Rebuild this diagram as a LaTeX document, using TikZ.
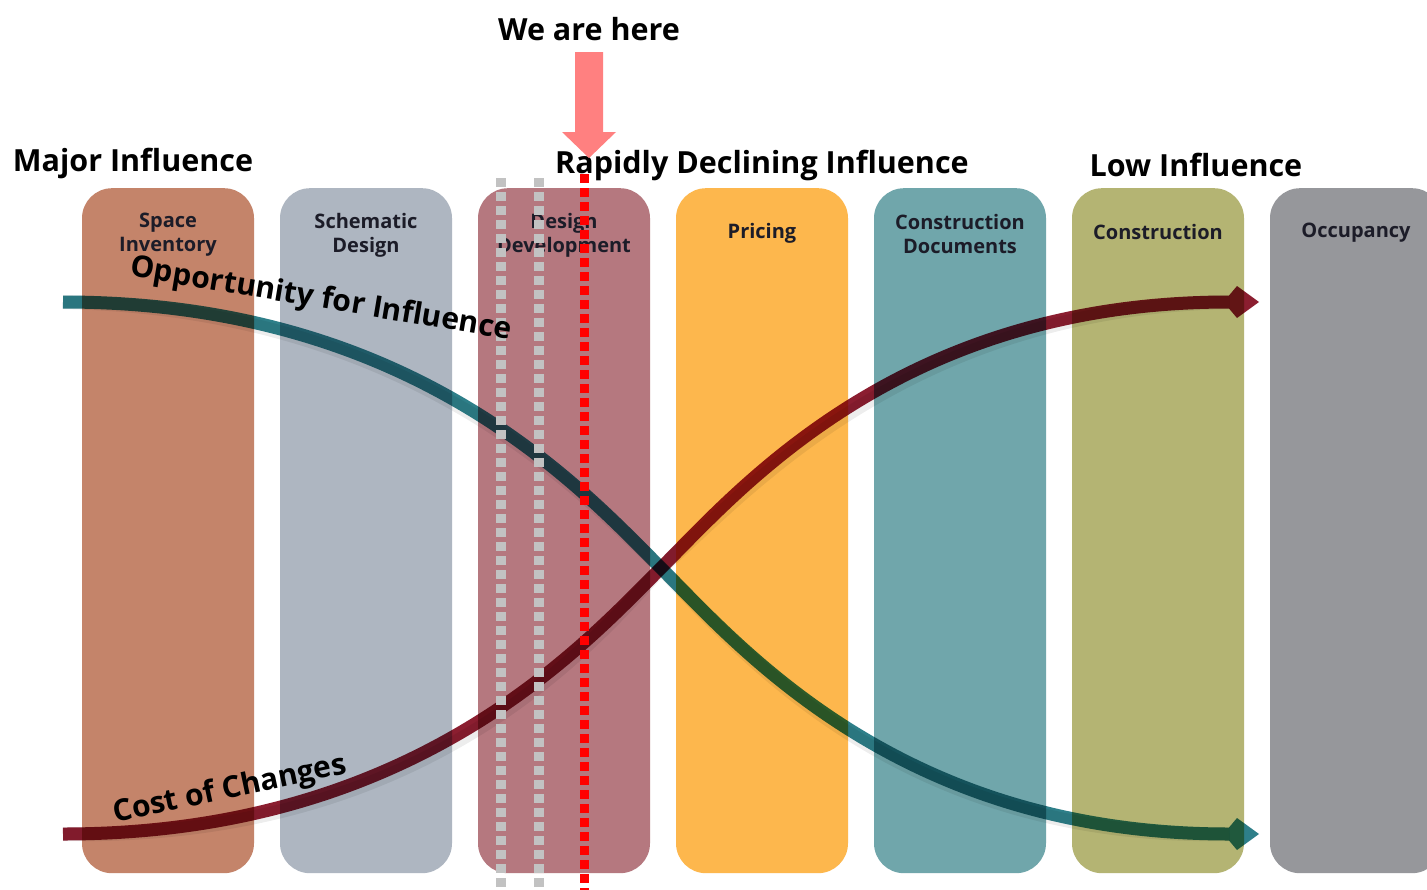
\documentclass[tikz,border=0pt]{standalone}
\usepackage{fontspec}
\setmainfont{Open Sans}
\definecolor{colA}{HTML}{C4846A}
\definecolor{colB}{HTML}{AEB6C1}
\definecolor{colC}{HTML}{B5787F}
\definecolor{colD}{HTML}{FDB74D}
\definecolor{colE}{HTML}{70A6AB}
\definecolor{colF}{HTML}{B4B473}
\definecolor{colG}{HTML}{96979B}
\definecolor{tealc}{HTML}{2E7F89}
\definecolor{maroonc}{HTML}{8B1E30}
\definecolor{herec}{HTML}{FF8080}
\definecolor{dotgray}{HTML}{C2C2C2}
\definecolor{labc}{HTML}{1C1C28}
\begin{document}
\begin{tikzpicture}[x=1pt,y=-1pt,
  colbox/.style={draw=none,rounded corners=30pt,minimum width=172pt,minimum height=685pt,inner sep=0pt,anchor=north},
  collabel/.style={font=\bfseries\fontsize{20}{24}\selectfont,text=labc,align=center,inner sep=0pt},
  title/.style={font=\bfseries\fontsize{30.5}{34}\selectfont,text=black,inner sep=0pt},
  curvelabel/.style={font=\bfseries\fontsize{30}{34}\selectfont,text=black,inner sep=0pt},
  curve/.style={line width=13pt,line cap=butt},
  shadowc/.style={line width=14pt,draw=black,opacity=0.07},
  graydots/.style={draw=dotgray,line width=10pt,dash pattern=on 9pt off 5pt},
  reddots/.style={draw=red,line width=9pt,dash pattern=on 9pt off 5pt}]
\useasboundingbox (0,0) rectangle (1427,889);
\clip (0,0) rectangle (1427,889);
\fill[white] (0,0) rectangle (1427,889);

% columns
\node[colbox,fill=colA] (c1) at (168,188) {};
\node[colbox,fill=colB] (c2) at (366,188) {};
\node[colbox,fill=colC] (c3) at (564,188) {};
\node[colbox,fill=colD] (c4) at (762,188) {};
\node[colbox,fill=colE] (c5) at (960,188) {};
\node[colbox,fill=colF] (c6) at (1158,188) {};
\node[colbox,fill=colG] (c7) at (1356,188) {};

\node[collabel] (l1) at (168,235) {Space\\Inventory};
\node[collabel] (l2) at (366,235) {Schematic\\Design};
\node[collabel] (l3) at (564,235) {Design\\Development};
\node[collabel] (l4) at (762,233) {Pricing};
\node[collabel] (l5) at (960,234) {Construction\\Documents};
\node[collabel] (l6) at (1158,232) {Construction};
\node[collabel] (l7) at (1356,233) {Occupancy};

% curves
\coordinate (os) at (63,302);
\coordinate (mid) at (661,568);
\coordinate (oe) at (1229,834);
\coordinate (cs) at (63,834);
\coordinate (ce) at (1229,302);

\begin{scope}[blend mode=multiply]
\begin{scope}[shift={(3,7)}]
\draw[shadowc] (os) .. controls (413,302) and (581,488) .. (mid) .. controls (741,648) and (900,834) .. (oe);
\draw[shadowc] (cs) .. controls (413,834) and (581,648) .. (mid) .. controls (741,488) and (900,302) .. (ce);
\end{scope}
\draw[curve,draw=tealc] (os) .. controls (413,302) and (581,488) .. (mid) .. controls (741,648) and (900,834) .. (oe);
\fill[tealc,shift={(oe)}] (0,-6.5) -- (8,-16) -- (30,0) -- (8,16) -- (0,6.5) -- cycle;
\draw[curve,draw=maroonc] (cs) .. controls (413,834) and (581,648) .. (mid) .. controls (741,488) and (900,302) .. (ce);
\fill[maroonc,shift={(ce)}] (0,-6.5) -- (8,-16) -- (30,0) -- (8,16) -- (0,6.5) -- cycle;
\end{scope}

% dotted lines
\coordinate (g1t) at (501,178); \coordinate (g1b) at (501,895);
\coordinate (g2t) at (539,178); \coordinate (g2b) at (539,895);
\coordinate (rt) at (584,174); \coordinate (rb) at (584,895);
\draw[graydots] (g1t) -- (g1b);
\draw[graydots] (g2t) -- (g2b);
\draw[reddots] (rt) -- (rb);

% curve labels
\node[curvelabel,rotate=-9.5] (opp) at (321,300) {Opportunity for Influence};
\node[curvelabel,rotate=12] (cost) at (230,790) {Cost of Changes};

% titles
\node[title] (t1) at (133,163) {Major Influence};
\node[title] (t2) at (762,165) {Rapidly Declining Influence};
\node[title] (t3) at (1196,165) {Low Influence};
\node[title] (here) at (589,29) {We are here};

% we are here arrow
\fill[herec] (575,52) -- (603,52) -- (603,132) -- (616,132) -- (589,158) -- (562,132) -- (575,132) -- cycle;
\end{tikzpicture}
\end{document}
